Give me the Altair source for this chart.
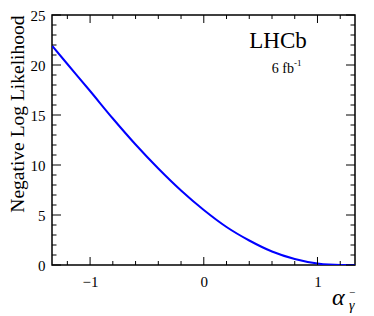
import altair as alt
import pandas as pd

# Curve values
alpha_vals = [-1.333, -1.2, -1.0, -0.8, -0.6, -0.4, -0.2, 0.0, 0.2, 0.4, 0.6, 0.8, 1.0, 1.1, 1.2, 1.33]
nll_vals = [21.9, 20.1, 17.4, 14.65, 12.05, 9.65, 7.45, 5.5, 3.8, 2.45, 1.35, 0.6, 0.15, 0.04, 0.0, 0.0]

x_major = [-1, 0, 1]
x_minor = [-1.2, -0.8, -0.6, -0.4, -0.2, 0.2, 0.4, 0.6, 0.8, 1.2]
y_major = [0, 5, 10, 15, 20, 25]
y_minor = [1, 2, 3, 4, 6, 7, 8, 9, 11, 12, 13, 14, 16, 17, 18, 19, 21, 22, 23, 24]

X_DOMAIN = [-1.335, 1.33]
Y_DOMAIN = [0, 25]
W, H = 303, 250
FONT = "Liberation Serif"
LFONT = "Liberation Serif, Times New Roman, serif"

xs = alt.Scale(domain=X_DOMAIN, nice=False, zero=False)
ys = alt.Scale(domain=Y_DOMAIN, nice=False, zero=False)

xaxis = alt.Axis(
    values=x_major, ticks=False, domain=False, grid=False, title=None,
    labelFont=LFONT, labelFontSize=15, labelColor="black", labelPadding=9,
    labelExpr="datum.value < 0 ? '\u2212' + abs(datum.value) : datum.label")
yaxis = alt.Axis(
    values=y_major, ticks=False, domain=False, grid=False,
    title="Negative Log Likelihood", titleFont=FONT, titleFontSize=19.5,
    titleFontWeight="normal", titleColor="black", titleAnchor="end",
    titlePadding=3, labelFont=LFONT, labelFontSize=15, labelColor="black",
    labelPadding=7)

df = pd.DataFrame({"a": alpha_vals, "nll": nll_vals})

line = alt.Chart(df).mark_line(color="#0000ff", strokeWidth=2, clip=True,
                               interpolate="monotone").encode(
    x=alt.X("a:Q", scale=xs, axis=xaxis),
    y=alt.Y("nll:Q", scale=ys, axis=yaxis),
)

def yticks(vals, length):
    d = pd.DataFrame({"v": vals})
    left = alt.Chart(d).mark_rule(color="black", strokeWidth=1).encode(
        y=alt.Y("v:Q", scale=ys, axis=yaxis), x=alt.value(0), x2=alt.value(length))
    right = alt.Chart(d).mark_rule(color="black", strokeWidth=1).encode(
        y=alt.Y("v:Q", scale=ys, axis=yaxis), x=alt.value(W - length), x2=alt.value(W))
    return [left, right]

def xticks(vals, length):
    d = pd.DataFrame({"v": vals})
    bottom = alt.Chart(d).mark_rule(color="black", strokeWidth=1).encode(
        x=alt.X("v:Q", scale=xs, axis=xaxis), y=alt.value(H), y2=alt.value(H - length))
    top = alt.Chart(d).mark_rule(color="black", strokeWidth=1).encode(
        x=alt.X("v:Q", scale=xs, axis=xaxis), y=alt.value(0), y2=alt.value(length))
    return [bottom, top]

def txt(text, x, y, size, align="left", style="normal"):
    return alt.Chart(pd.DataFrame({"t": [text]})).mark_text(
        font=FONT, fontSize=size, align=align, baseline="alphabetic",
        fontStyle=style, color="black").encode(
        text="t:N", x=alt.value(x), y=alt.value(y))

texts = [
    txt("LHCb", 226, 33, 23, align="center"),
    txt("6 fb", 242, 57.5, 14, align="right"),
    txt("-1", 242, 51, 9),
    txt("\u03b1", 280, 290, 24, style="italic"),
    txt("\u2212", 297, 281, 11),
    txt("\u03b3", 297, 295, 14, style="italic"),
]

layers = [line] + yticks(y_major, 9) + yticks(y_minor, 4.5) + xticks(x_major, 8) + xticks(x_minor, 4) + texts

chart = alt.layer(*layers).properties(
    width=W, height=H,
    background="white",
    autosize=alt.AutoSizeParams(type="none"),
    padding={"left": 44, "top": 7, "right": 11, "bottom": 51},
).configure(
    font=FONT,
    style={"guide-label": {"font": LFONT}, "guide-title": {"font": FONT}},
).configure_view(
    stroke="black", strokeWidth=1.5
).configure_axis(
    labelFont=LFONT, titleFont=FONT, labelColor="black", titleColor="black"
)

chart.save("out.html", embed_options={"renderer": "svg", "actions": False})
